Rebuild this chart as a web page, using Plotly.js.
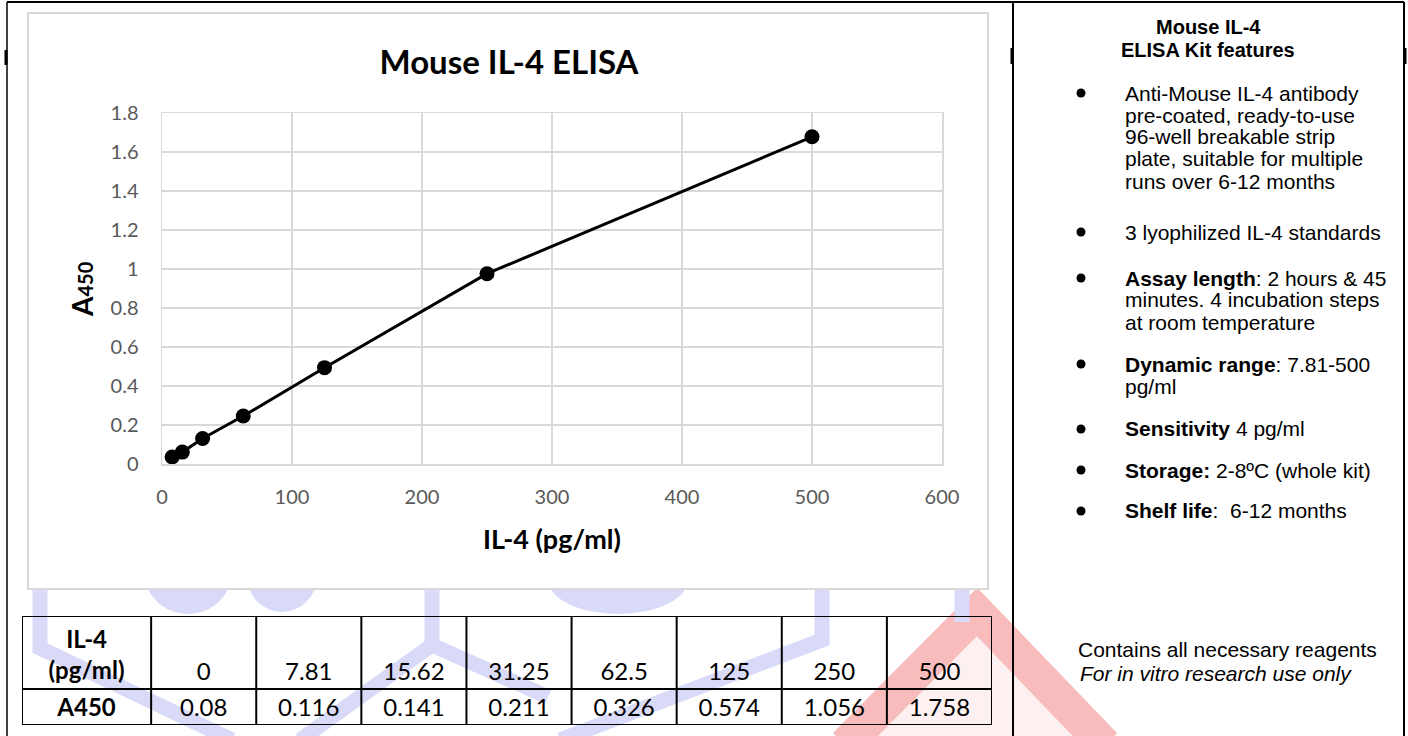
<!DOCTYPE html>
<html><head><meta charset="utf-8">
<script src="https://cdn.plot.ly/plotly-3.0.1.min.js"></script>
<style>html,body{margin:0;padding:0;background:#fff;}#chart{width:1408px;height:736px;}</style>
</head><body><div id="chart"></div>
<script>
// ---- data ----
const concentrations = [7.81, 15.62, 31.25, 62.5, 125, 250, 500];
const absorbance = [0.036, 0.061, 0.131, 0.246, 0.494, 0.976, 1.678];
const tableConc = ['0', '7.81', '15.62', '31.25', '62.5', '125', '250', '500'];
const tableA450 = ['0.08', '0.116', '0.141', '0.211', '0.326', '0.574', '1.056', '1.758'];
const tableRowLabels = ['IL-4<br>(pg/ml)', 'A450'];
const xRange = [0, 600];
const yRange = [0, 1.8];

const W = 1408, H = 736;
const fx = x => x / W;
const fy = y => 1 - y / H;

// ---- table geometry (in table-axis units = px) ----
const colWidths = [129, 105, 105, 105, 105, 105, 105, 105, 105];
const rowHeights = [73, 36];
const colEdges = colWidths.reduce((a, w) => { a.push(a[a.length - 1] + w); return a; }, [0]);
const rowEdges = rowHeights.reduce((a, h) => { a.push(a[a.length - 1] + h); return a; }, [0]);
const colCenters = colWidths.map((w, i) => colEdges[i] + w / 2);
const tableW = colEdges[colEdges.length - 1], tableH = rowEdges[rowEdges.length - 1];

// ---- right panel text ----
const panelFont = 'Liberation Sans, Arial, sans-serif';
const featureLines = [
  [93, 'Anti-Mouse IL-4 antibody'],
  [115, 'pre-coated, ready-to-use'],
  [137, '96-well breakable strip'],
  [159, 'plate, suitable for multiple'],
  [181, 'runs over 6-12 months'],
  [232, '3 lyophilized IL-4 standards'],
  [278, '<b>Assay length</b>: 2 hours &amp; 45'],
  [300, 'minutes. 4 incubation steps'],
  [322, 'at room temperature'],
  [364, '<b>Dynamic range</b>: 7.81-500'],
  [386, 'pg/ml'],
  [429, '<b>Sensitivity</b> 4 pg/ml'],
  [470, '<b>Storage:</b> 2-8ºC (whole kit)'],
  [511, '<b>Shelf life</b>:\u00a0 6-12 months']
];
const bulletRows = [93, 232, 278, 364, 429, 470, 511];

const annotations = [];
annotations.push({xref:'paper', yref:'paper', x:fx(1208), y:fy(27), xanchor:'center', yanchor:'middle', showarrow:false,
  text:'<b>Mouse IL-4</b>', font:{family:panelFont, size:20, color:'#000'}});
annotations.push({xref:'paper', yref:'paper', x:fx(1208), y:fy(50), xanchor:'center', yanchor:'middle', showarrow:false,
  text:'<b>ELISA Kit features</b>', font:{family:panelFont, size:20, color:'#000'}});
featureLines.forEach(([y, t]) => annotations.push({xref:'paper', yref:'paper', x:fx(1123), y:fy(y), xanchor:'left', yanchor:'middle',
  showarrow:false, text:t, font:{family:panelFont, size:21, color:'#000'}}));
annotations.push({xref:'paper', yref:'paper', x:fx(1076), y:fy(649), xanchor:'left', yanchor:'middle', showarrow:false,
  text:'Contains all necessary reagents', font:{family:panelFont, size:21, color:'#000'}});
annotations.push({xref:'paper', yref:'paper', x:fx(1078), y:fy(673), xanchor:'left', yanchor:'middle', showarrow:false,
  text:'<i>For in vitro research use only</i>', font:{family:panelFont, size:21, color:'#000'}});
// y axis title (A with smaller 450)
annotations.push({xref:'paper', yref:'paper', x:fx(82), y:fy(289), xanchor:'center', yanchor:'middle', showarrow:false, textangle:-90,
  text:'<b>A<span style="font-size:20px">450</span></b>', font:{family:'Lato', size:28, color:'#000'}});

// ---- shapes ----
const shapes = [];
const blue = '#d8daf8';
const seg = (pts, color, width) => ({type:'path', xref:'paper', yref:'paper', layer:'below',
  path: pts.map((p, i) => (i ? 'L' : 'M') + fx(p[0]) + ',' + fy(p[1])).join(' '), line:{color, width}});
// watermark (faint)
shapes.push({type:'path', xref:'paper', yref:'paper', layer:'below',
  path:'M'+fx(977)+','+fy(612)+' L'+fx(845)+','+fy(740)+' L'+fx(1100)+','+fy(740)+' Z', fillcolor:'#fdf0f0', line:{width:0}});
shapes.push(seg([[845,745],[977,612],[1105,745]], '#f8bcbc', 34));
shapes.push({type:'circle', xref:'paper', yref:'paper', layer:'below', x0:fx(143), x1:fx(233), y0:fy(523), y1:fy(614), fillcolor:blue, line:{width:0}});
shapes.push({type:'circle', xref:'paper', yref:'paper', layer:'below', x0:fx(247), x1:fx(317), y0:fy(541), y1:fy(612), fillcolor:blue, line:{width:0}});
shapes.push({type:'circle', xref:'paper', yref:'paper', layer:'below', x0:fx(548), x1:fx(688), y0:fy(545), y1:fy(614), fillcolor:blue, line:{width:0}});
shapes.push(seg([[40,585],[40,648],[232,740]], blue, 15));
shapes.push(seg([[432,585],[432,645],[300,740]], blue, 15));
shapes.push(seg([[432,645],[548,697]], blue, 15));
shapes.push(seg([[822,585],[822,640],[560,740]], blue, 15));
shapes.push(seg([[962,585],[962,622]], blue, 15));
// chart box (white with light gray border)
shapes.push({type:'rect', xref:'paper', yref:'paper', layer:'below', x0:fx(28), x1:fx(988), y0:fy(13), y1:fy(589),
  fillcolor:'#ffffff', line:{color:'#d9d9d9', width:2}});
// outer frame
const blk = (x0, y0, x1, y1, w) => ({type:'line', xref:'paper', yref:'paper', layer:'above', x0:fx(x0), y0:fy(y0), x1:fx(x1), y1:fy(y1), line:{color:'#000', width:w}});
shapes.push(blk(7, 2, 1404, 2, 2));
shapes.push(blk(7, 2, 7, 736, 1.5));
shapes.push(blk(6, 50, 6, 65, 3));
shapes.push(blk(1013, 2, 1013, 736, 2));
shapes.push(blk(1012, 48, 1012, 64, 3));
shapes.push(blk(1404, 2, 1404, 736, 2));
shapes.push(blk(1405, 48, 1405, 64, 3));
// bullets
bulletRows.forEach(y => shapes.push({type:'circle', xref:'paper', yref:'paper', layer:'above',
  x0:fx(1081 - 4.5), x1:fx(1081 + 4.5), y0:fy(y - 4.5), y1:fy(y + 4.5), fillcolor:'#000', line:{width:0}}));
// table grid (on table axes)
colEdges.forEach(x => shapes.push({type:'line', xref:'x2', yref:'y2', layer:'above', x0:x, x1:x, y0:0, y1:tableH, line:{color:'#000', width:2}}));
rowEdges.forEach(y => shapes.push({type:'line', xref:'x2', yref:'y2', layer:'above', x0:0, x1:tableW, y0:y, y1:y, line:{color:'#000', width:2}}));

// ---- traces ----
const curve = {
  type:'scatter', mode:'lines+markers', x:concentrations, y:absorbance,
  line:{color:'#000', width:3}, marker:{color:'#000', size:15},
  showlegend:false, hoverinfo:'x+y'
};
const headerTextY = rowEdges[0] + rowHeights[0] * 0.80;
const headerLabelY = rowEdges[0] + rowHeights[0] * 0.57;
const rowTextY = rowEdges[1] + rowHeights[1] * 0.58;
const tableLabels = {
  type:'scatter', mode:'text', xaxis:'x2', yaxis:'y2',
  x:[colCenters[0], colCenters[0]],
  y:[headerLabelY, rowTextY],
  text:tableRowLabels.map(t => '<b>' + t + '</b>'),
  textposition:'middle center', textfont:{family:'Lato', size:24, color:'#000'},
  showlegend:false, hoverinfo:'skip'
};
const tableHeader = {
  type:'scatter', mode:'text', xaxis:'x2', yaxis:'y2',
  x:colCenters.slice(1), y:tableConc.map(() => headerTextY), text:tableConc,
  textposition:'middle center', textfont:{family:'Lato', size:24, color:'#000'},
  showlegend:false, hoverinfo:'skip'
};
const tableRow = {
  type:'scatter', mode:'text', xaxis:'x2', yaxis:'y2',
  x:colCenters.slice(1), y:tableA450.map(() => rowTextY), text:tableA450,
  textposition:'middle center', textfont:{family:'Lato', size:24, color:'#000'},
  showlegend:false, hoverinfo:'skip'
};

const axisCommon = {
  showgrid:true, gridcolor:'#d9d9d9', gridwidth:1.5,
  showline:true, linecolor:'#d9d9d9', linewidth:1.5, mirror:true,
  zeroline:false, ticks:'', fixedrange:true,
  tickfont:{family:'Lato', size:20, color:'#595959'}
};

const layout = {
  width:W, height:H, autosize:false,
  margin:{l:0, r:0, t:0, b:0, pad:0},
  paper_bgcolor:'#ffffff', plot_bgcolor:'rgba(0,0,0,0)',
  showlegend:false,
  title:{text:'<b>Mouse IL-4 ELISA</b>', font:{family:'Lato', size:33, color:'#000'},
    x:fx(509), xanchor:'center', y:fy(62), yanchor:'middle', xref:'paper', yref:'paper'},
  xaxis:Object.assign({}, axisCommon, {
    domain:[fx(162), fx(942)], range:xRange, tick0:0, dtick:100, ticklabelstandoff:14,
    title:{text:'<b>IL-4 (pg/ml)</b>', font:{family:'Lato', size:27, color:'#000'}, standoff:23}
  }),
  yaxis:Object.assign({}, axisCommon, {
    domain:[fy(464), fy(113)], range:yRange, tick0:0, dtick:0.2, ticklabelstandoff:18
  }),
  xaxis2:{domain:[fx(22), fx(992)], range:[0, tableW], anchor:'y2', visible:false, fixedrange:true},
  yaxis2:{domain:[fy(725), fy(616)], range:[tableH, 0], anchor:'x2', visible:false, fixedrange:true},
  shapes, annotations
};

Plotly.newPlot('chart', [curve, tableLabels, tableHeader, tableRow], layout, {displayModeBar:false, staticPlot:true});
</script>
</body></html>
